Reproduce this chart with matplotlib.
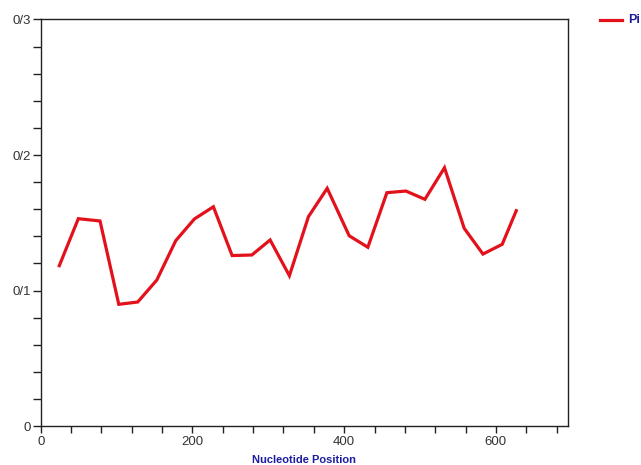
import matplotlib
matplotlib.use("Agg")
import matplotlib.pyplot as plt
from matplotlib.lines import Line2D

positions = [24.5, 49.6, 78.2, 102.9, 127.9, 153.0, 178.0, 202.6, 227.6, 252.3,
             278.3, 302.4, 327.8, 352.9, 377.6, 406.6, 431.2, 456.3, 481.3, 506.4,
             532.2, 558.2, 582.9, 608.3, 626.8]
pi_values = [0.1183, 0.1530, 0.1513, 0.0898, 0.0915, 0.1077, 0.1368, 0.1528, 0.1618, 0.1258,
             0.1262, 0.1373, 0.1109, 0.1545, 0.1754, 0.1404, 0.1319, 0.1722, 0.1734, 0.1673,
             0.1906, 0.1459, 0.1269, 0.1341, 0.1589]
y_ticks = [0.0, 0.1, 0.2, 0.3]
y_labels = ["0", "0/1", "0/2", "0/3"]
x_label_ticks = [0, 200, 400, 600]
series_name = "Pi"
x_title = "Nucleotide Position"

plt.rcParams['font.family'] = ['Liberation Sans', 'DejaVu Sans']

fig = plt.figure(figsize=(6.41, 4.65), dpi=100)
ax = fig.add_axes([40.7/641, 1-426/465, (568-40.7)/641, (426-19.5)/465])

ax.plot(positions, pi_values, color="#e3111b", lw=2.3, solid_joinstyle="miter")

ax.set_xlim(0, 695)
ax.set_ylim(0, 0.3)

xt = list(range(0, 681, 40))
ax.set_xticks(xt)
ax.set_xticklabels([str(v) if v in x_label_ticks else "" for v in xt])
ax.set_yticks(y_ticks)
ax.set_yticklabels(y_labels)
ax.set_yticks([i*0.02 for i in range(16) if i % 5 != 0], minor=True)

ax.tick_params(axis="both", which="both", direction="out", color="#222222", width=1.0,
               labelsize=9.5, labelcolor="#333333")
ax.tick_params(axis="x", which="major", length=5, pad=2)
ax.tick_params(axis="y", which="both", length=6, pad=1)

for s in ax.spines.values():
    s.set_color("#222222")
    s.set_linewidth(1.0)

ax.set_xlabel(x_title, fontsize=8, fontweight="bold", color="#1c1ca0", labelpad=5)

# legend at top right, partly clipped
fig.add_artist(Line2D([600/641, 622/641], [1-20/465, 1-20/465], color="#e3111b", lw=2.3,
                      transform=fig.transFigure))
fig.text(628/641, 1-20/465, series_name, fontsize=9, fontweight="bold", color="#1c1ca0",
         va="center", ha="left")

fig.savefig("out.png", dpi=100)
